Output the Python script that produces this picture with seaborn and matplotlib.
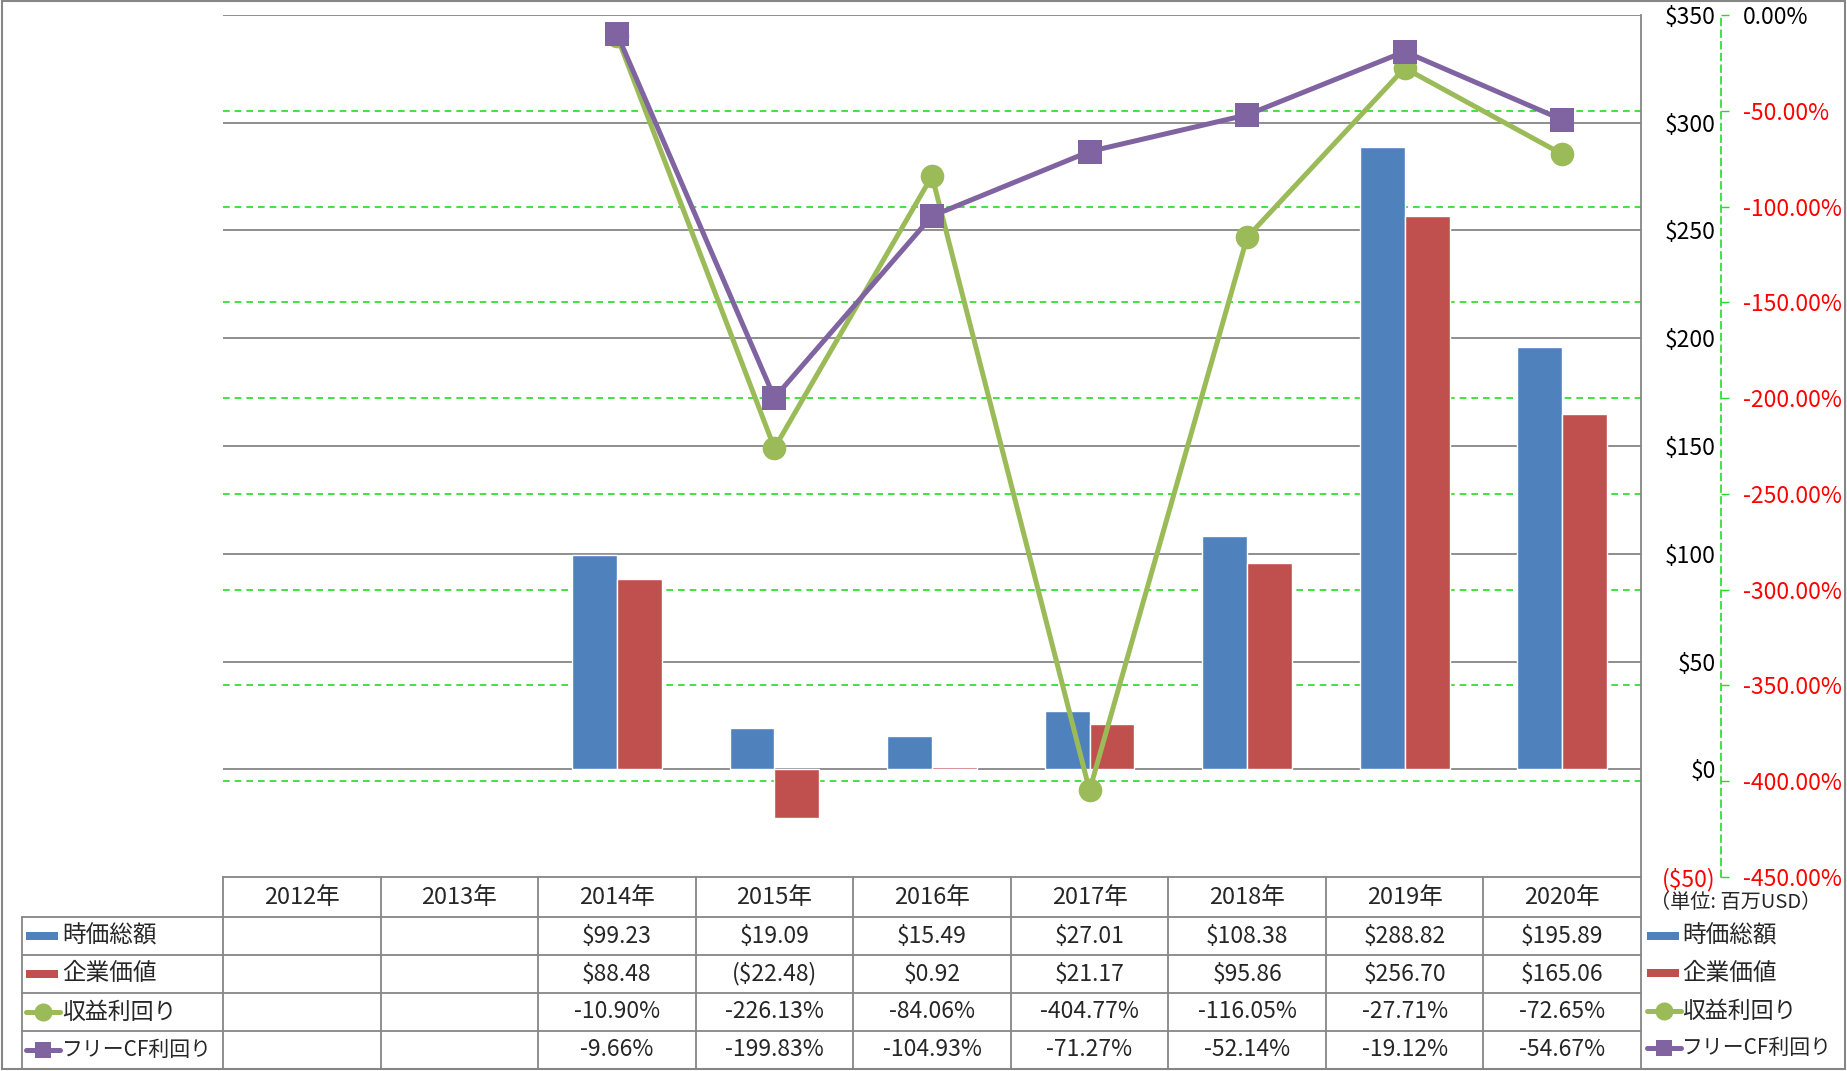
import numpy as np
import pandas as pd
import matplotlib
matplotlib.use('Agg')
import matplotlib.pyplot as plt
from matplotlib.patches import Rectangle
from matplotlib.lines import Line2D
import seaborn as sns

# データ（単位: 百万USD / %）
years = ['2012年', '2013年', '2014年', '2015年', '2016年', '2017年', '2018年', '2019年', '2020年']
market_cap = [np.nan, np.nan, 99.23, 19.09, 15.49, 27.01, 108.38, 288.82, 195.89]
enterprise_value = [np.nan, np.nan, 88.48, -22.48, 0.92, 21.17, 95.86, 256.70, 165.06]
earnings_yield = [np.nan, np.nan, -10.90, -226.13, -84.06, -404.77, -116.05, -27.71, -72.65]
fcf_yield = [np.nan, np.nan, -9.66, -199.83, -104.93, -71.27, -52.14, -19.12, -54.67]

bar_names = ['時価総額', '企業価値']
line_names = ['収益利回り', 'フリーCF利回り']
usd_ticks = [-50, 0, 50, 100, 150, 200, 250, 300, 350]
pct_ticks = [-450, -400, -350, -300, -250, -200, -150, -100, -50, 0]

BLUE, RED, GREEN, PURPLE = '#4f81bd', '#c0504d', '#9bbb59', '#8064a2'
GRAY = '#868686'
LIME = '#22dd22'

bars_df = pd.DataFrame({'年': years * 2,
                        '系列': [bar_names[0]] * 9 + [bar_names[1]] * 9,
                        '値': market_cap + enterprise_value})
lines_df = pd.DataFrame({'年': years * 2,
                         '系列': [line_names[0]] * 9 + [line_names[1]] * 9,
                         '値': earnings_yield + fcf_yield})

sns.set_style('white')
plt.rcParams['font.family'] = ['Noto Sans CJK JP', 'DejaVu Sans']
plt.rcParams['font.size'] = 16

W, H = 1847, 1071
fig = plt.figure(figsize=(W / 100, H / 100), dpi=100)
X0, X1, Y0, Y1 = 223, 1641, 15, 877   # 描画領域（ピクセル）
rect = [X0 / W, 1 - Y1 / H, (X1 - X0) / W, (Y1 - Y0) / H]

# 表・枠線用のオーバーレイ
ov = fig.add_axes([0, 0, 1, 1], zorder=-5)
ov.set_xlim(0, W)
ov.set_ylim(H, 0)
ov.axis('off')

# パーセント目盛の緑の破線グリッド（棒の後ろ）
ax_g = fig.add_axes(rect, zorder=0)
ax_g.set_ylim(-450, 0)
ax_g.set_xlim(-0.5, 8.5)
for t in pct_ticks[1:-1]:
    ax_g.axhline(t, color=LIME, lw=1.2, ls=(0, (4, 3)))
ax_g.axis('off')

# 棒グラフ
ax = fig.add_axes(rect, zorder=1)
ax.patch.set_visible(False)
for t in usd_ticks[1:]:
    ax.axhline(t, color=GRAY, lw=1.3, zorder=0)
sns.barplot(data=bars_df, x='年', y='値', hue='系列', order=years, hue_order=bar_names,
            palette=[BLUE, RED], saturation=1, width=0.57, errorbar=None,
            legend=False, ax=ax, zorder=2)
ax.set_ylim(-50, 350)
ax.set_xlim(-0.5, 8.5)
ax.set_xlabel('')
ax.set_ylabel('')
ax.set_xticks([])
ax.yaxis.tick_right()
ax.set_yticks(usd_ticks, labels=[f'(${-v})' if v < 0 else f'${v}' for v in usd_ticks])
ax.tick_params(axis='y', length=0, pad=54, labelsize=16.5)
for s in ['left', 'top', 'bottom']:
    ax.spines[s].set_visible(False)
ax.spines['right'].set_color(GRAY)
ax.spines['right'].set_linewidth(1.3)

# 折れ線（第2軸）
ax2 = fig.add_axes(rect, zorder=2, sharex=ax)
ax2.patch.set_visible(False)
sns.pointplot(data=lines_df, x='年', y='値', hue='系列', order=years, hue_order=line_names,
              palette=[GREEN, PURPLE], markers=['o', 's'], linestyles=['-', '-'],
              errorbar=None, legend=False, ax=ax2,
              markersize=17, linewidth=3.6, markeredgewidth=0)
ax2.set_ylim(-450, 0)
ax2.set_xlim(-0.5, 8.5)
ax2.set_xlabel('')
ax2.set_ylabel('')
ax2.tick_params(axis='x', bottom=False, labelbottom=False)
ax2.yaxis.tick_right()
ax2.set_yticks(pct_ticks, labels=[f'{v:.2f}%' for v in pct_ticks])
ax2.tick_params(axis='y', length=6, width=1, color=LIME, pad=10, labelsize=16.5,
                direction='out', labelcolor='red')
for s in ['left', 'top', 'bottom']:
    ax2.spines[s].set_visible(False)
ax2.spines['right'].set_position(('outward', 80 * 0.72))
ax2.spines['right'].set_color(LIME)
ax2.spines['right'].set_linestyle((0, (4, 3)))
ax2.spines['right'].set_linewidth(1.2)

# データテーブル
col_w = (X1 - X0) / len(years)
row_y = [877, 917, 955, 993, 1031, 1069]
lw = 1.3
ov.plot([X0, X1], [row_y[0], row_y[0]], color=GRAY, lw=lw)
for y in row_y[1:]:
    ov.plot([22, X1], [y, y], color=GRAY, lw=lw)
ov.plot([22, 22], [row_y[1], row_y[-1]], color=GRAY, lw=lw)
for i in range(len(years) + 1):
    x = X0 + i * col_w
    ov.plot([x, x], [row_y[0], row_y[-1]], color=GRAY, lw=lw)


def usd_fmt(v):
    if np.isnan(v):
        return ''
    return f'(${-v:.2f})' if v < 0 else f'${v:.2f}'


def pct_fmt(v):
    return '' if np.isnan(v) else f'{v:.2f}%'


rows = [[usd_fmt(v) for v in market_cap],
        [usd_fmt(v) for v in enterprise_value],
        [pct_fmt(v) for v in earnings_yield],
        [pct_fmt(v) for v in fcf_yield]]
for i, yr in enumerate(years):
    cx = X0 + (i + 0.5) * col_w
    ov.text(cx, (row_y[0] + row_y[1]) / 2, yr, ha='center', va='center', fontsize=17)
    for r, vals in enumerate(rows):
        ov.text(cx, (row_y[r + 1] + row_y[r + 2]) / 2, vals[i], ha='center', va='center', fontsize=16.5)


def legend_key(x, y, kind, color):
    if kind == 'bar':
        ov.add_patch(Rectangle((x, y - 4), 32, 8, color=color, lw=0))
    else:
        ov.add_line(Line2D([x, x + 34], [y, y], color=color, lw=3.6))
        ov.plot([x + 17], [y], marker='o' if kind == 'o' else 's', color=color,
                markersize=13 if kind == 'o' else 12, markeredgewidth=0)


names = bar_names + line_names
kinds = [('bar', BLUE), ('bar', RED), ('o', GREEN), ('s', PURPLE)]
sizes = [17, 17, 16.5, 15]
for r, (name, (kind, color)) in enumerate(zip(names, kinds)):
    yc = (row_y[r + 1] + row_y[r + 2]) / 2
    legend_key(26, yc, kind, color)
    ov.text(62, yc, name, ha='left', va='center', fontsize=sizes[r])
    yr = [936, 973, 1011, 1048][r]
    legend_key(1647, yr, kind, color)
    ov.text(1682, yr, name, ha='left', va='center', fontsize=sizes[r])

ov.text(1736, 903, '（単位: 百万USD）', ha='center', va='center', fontsize=14.5)

# 外枠
ov.add_patch(Rectangle((2, 1), W - 4, H - 3, fill=False, edgecolor=GRAY, lw=1.5))

# 負の値は赤、それ以外は黒（ドル目盛は右揃え）
fig.canvas.draw()
for lab in ax.yaxis.get_ticklabels(which='major'):
    lab.set_color('red' if lab.get_text().startswith('(') else 'black')
    lab.set_horizontalalignment('right')
for lab in ax2.yaxis.get_ticklabels(which='major'):
    lab.set_color('red' if lab.get_text().startswith('-') else 'black')

fig.savefig('out.png', dpi=100)
